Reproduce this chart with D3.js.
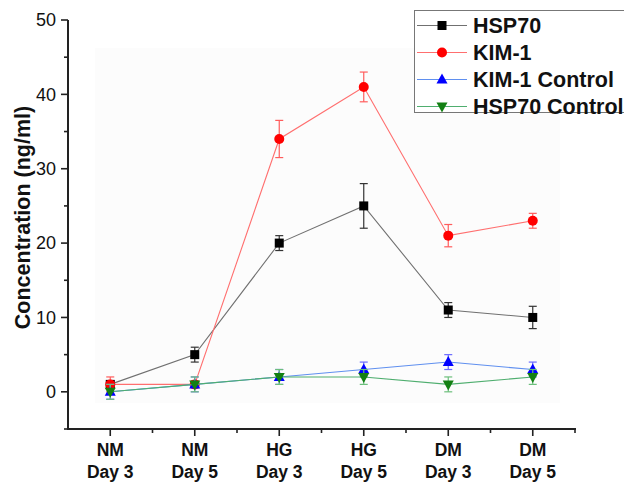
<!DOCTYPE html>
<html>
<head>
<meta charset="utf-8">
<script src="https://cdn.jsdelivr.net/npm/d3@7"></script>
<style>
  body { margin: 0; background: #fff; }
  svg { display: block; font-family: "Liberation Sans", Arial, sans-serif; }
</style>
</head>
<body>
<svg id="chart" width="624" height="482"></svg>
<script>
// categories (two-line labels)
var categories = [["NM", "Day 3"], ["NM", "Day 5"], ["HG", "Day 3"], ["HG", "Day 5"], ["DM", "Day 3"], ["DM", "Day 5"]];

// series values and error bars
var hsp70 = [1, 5, 20, 25, 11, 10];
var hsp70Err = [0.5, 1, 1, 3, 1, 1.5];
var kim1 = [1, 1, 34, 41, 21, 23];
var kim1Err = [1, 0.5, 2.5, 2, 1.5, 1];
var kim1Ctrl = [0, 1, 2, 3, 4, 3];
var kim1CtrlErr = [1, 1, 1, 1, 1, 1];
var hsp70Ctrl = [0, 1, 2, 2, 1, 2];
var hsp70CtrlErr = [1, 1, 1, 1, 1, 1];

var yTicks = [0, 10, 20, 30, 40, 50];
var yMinorTicks = [-5, 5, 15, 25, 35, 45];

var series = [
  { name: "HSP70", values: hsp70, err: hsp70Err, line: "#707070", bar: "#333", fill: "#000", shape: "square" },
  { name: "KIM-1", values: kim1, err: kim1Err, line: "#ff6f6f", bar: "#ff5c5c", fill: "#ff0000", shape: "circle" },
  { name: "KIM-1 Control", values: kim1Ctrl, err: kim1CtrlErr, line: "#5f8fef", bar: "#6b6bff", fill: "#0000ff", shape: "up" },
  { name: "HSP70 Control", values: hsp70Ctrl, err: hsp70CtrlErr, line: "#4fae6f", bar: "#6cbf7c", fill: "#138013", shape: "down" }
];

var svg = d3.select("#chart");
var x = d3.scaleLinear().domain([-0.5, 5.5]).range([68, 575]);
var y = d3.scaleLinear().domain([-5, 50]).range([429, 20]);

// faint plot background
svg.append("rect")
  .attr("x", 95).attr("y", 48).attr("width", 465).attr("height", 355)
  .attr("fill", "#fcfcfc");

// marker shapes
function drawMarker(g, shape, cx, cy, fill) {
  if (shape === "square") {
    g.append("rect").attr("x", cx - 4.5).attr("y", cy - 4.5).attr("width", 9).attr("height", 9).attr("fill", fill);
  } else if (shape === "circle") {
    g.append("circle").attr("cx", cx).attr("cy", cy).attr("r", 5).attr("fill", fill);
  } else if (shape === "up") {
    g.append("path").attr("d", "M" + cx + "," + (cy - 6) + "L" + (cx + 5.5) + "," + (cy + 4) + "L" + (cx - 5.5) + "," + (cy + 4) + "Z").attr("fill", fill);
  } else {
    g.append("path").attr("d", "M" + cx + "," + (cy + 6) + "L" + (cx + 5.5) + "," + (cy - 4) + "L" + (cx - 5.5) + "," + (cy - 4) + "Z").attr("fill", fill);
  }
}

// series
series.forEach(function (s) {
  var g = svg.append("g");
  var line = d3.line()
    .x(function (d, i) { return x(i); })
    .y(function (d) { return y(d); });
  g.append("path")
    .datum(s.values)
    .attr("fill", "none")
    .attr("stroke", s.line)
    .attr("stroke-width", 1.1)
    .attr("d", line);

  s.values.forEach(function (v, i) {
    var cx = x(i), top = y(v + s.err[i]), bot = y(v - s.err[i]);
    g.append("line").attr("x1", cx).attr("x2", cx).attr("y1", top).attr("y2", bot)
      .attr("stroke", s.bar).attr("stroke-width", 1.2);
    [top, bot].forEach(function (yy) {
      g.append("line").attr("x1", cx - 4).attr("x2", cx + 4).attr("y1", yy).attr("y2", yy)
        .attr("stroke", s.bar).attr("stroke-width", 1.2);
    });
    drawMarker(g, s.shape, cx, y(v), s.fill);
  });
});

// axes
var axisColor = "#222";
var yAxis = svg.append("g").attr("transform", "translate(68,0)");
yAxis.append("line").attr("x1", 0).attr("x2", 0).attr("y1", y(50)).attr("y2", y(-5))
  .attr("stroke", axisColor).attr("stroke-width", 2);
yTicks.forEach(function (t) {
  yAxis.append("line").attr("x1", -7).attr("x2", 0).attr("y1", y(t)).attr("y2", y(t))
    .attr("stroke", axisColor).attr("stroke-width", 1.6);
  yAxis.append("text").attr("x", -12).attr("y", y(t)).attr("dy", "0.35em")
    .attr("text-anchor", "end").attr("font-size", 18).attr("fill", "#111").text(t);
});
yMinorTicks.forEach(function (t) {
  yAxis.append("line").attr("x1", -4).attr("x2", 0).attr("y1", y(t)).attr("y2", y(t))
    .attr("stroke", axisColor).attr("stroke-width", 1.6);
});

var xAxis = svg.append("g").attr("transform", "translate(0," + y(-5) + ")");
xAxis.append("line").attr("x1", x(-0.5) - 1).attr("x2", x(5.5) + 1).attr("y1", 0).attr("y2", 0)
  .attr("stroke", axisColor).attr("stroke-width", 2);
categories.forEach(function (c, i) {
  xAxis.append("line").attr("x1", x(i)).attr("x2", x(i)).attr("y1", 0).attr("y2", 7)
    .attr("stroke", axisColor).attr("stroke-width", 1.6);
  var t = xAxis.append("text").attr("text-anchor", "middle").attr("font-size", 17.5)
    .attr("font-weight", "bold").attr("fill", "#111");
  t.append("tspan").attr("x", x(i)).attr("y", 27).text(c[0]);
  t.append("tspan").attr("x", x(i)).attr("y", 49).text(c[1]);
});
d3.range(0, 6).forEach(function (i) {
  xAxis.append("line").attr("x1", x(i + 0.5)).attr("x2", x(i + 0.5)).attr("y1", 0).attr("y2", 4)
    .attr("stroke", axisColor).attr("stroke-width", 1.6);
});

// y title
svg.append("text")
  .attr("transform", "translate(30," + ((y(50) + y(-5)) / 2 - 7) + ") rotate(-90)")
  .attr("text-anchor", "middle").attr("font-size", 21.5).attr("font-weight", "bold")
  .attr("fill", "#111").text("Concentration (ng/ml)");

// legend
var legend = svg.append("g");
legend.append("rect").attr("x", 414.5).attr("y", 10.5).attr("width", 230).attr("height", 102)
  .attr("fill", "#fff").attr("stroke", "#777").attr("stroke-width", 1);
series.forEach(function (s, i) {
  var ly = 25.5 + i * 27;
  legend.append("line").attr("x1", 417).attr("x2", 467).attr("y1", ly).attr("y2", ly)
    .attr("stroke", s.line).attr("stroke-width", 1.1);
  drawMarker(legend, s.shape, 442, ly, s.fill);
  legend.append("text").attr("x", 473).attr("y", ly).attr("dy", "0.36em")
    .attr("font-size", 21.5).attr("font-weight", "bold").attr("fill", "#111").text(s.name);
});
</script>
</body>
</html>
